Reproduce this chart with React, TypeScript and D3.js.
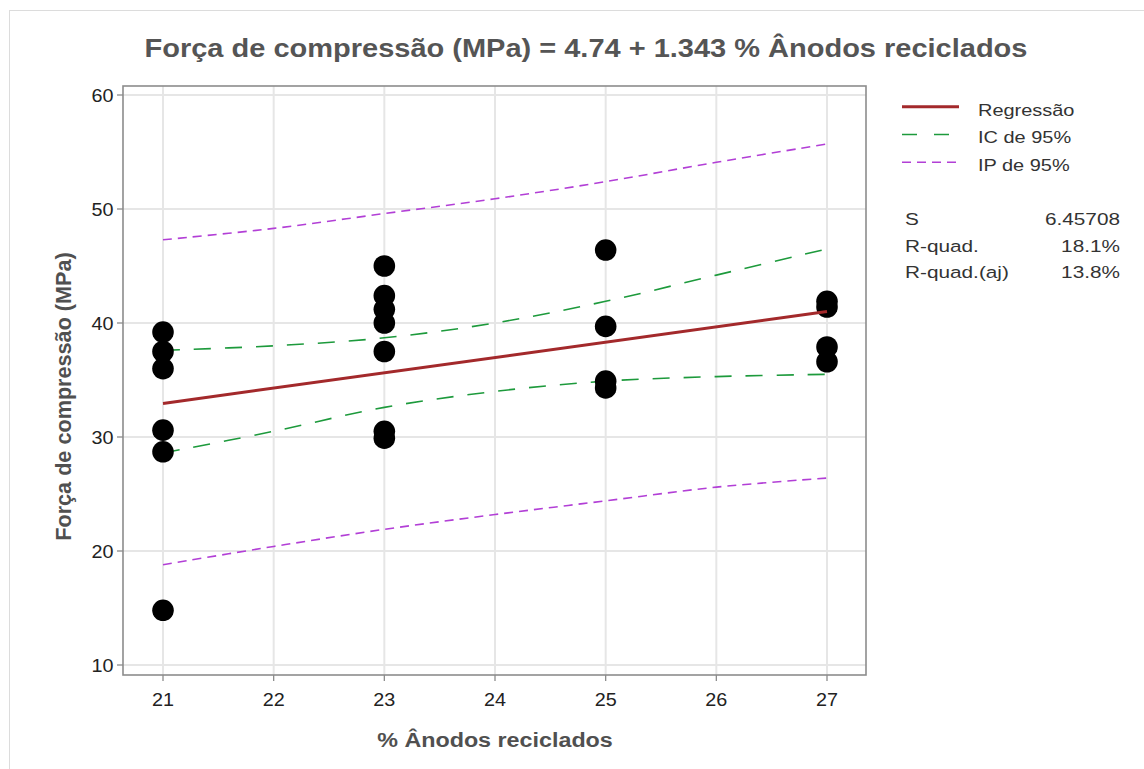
import React from "react";
import * as d3 from "d3";

// observed data: % anodos reciclados vs forca de compressao
const xObs = [21, 21, 21, 21, 21, 21, 23, 23, 23, 23, 23, 23, 23, 25, 25, 25, 25, 27, 27, 27, 27];
const yObs = [39.2, 37.5, 36.0, 30.6, 28.7, 14.8, 45.0, 42.4, 41.2, 40.0, 37.5, 30.5, 29.9, 46.4, 39.7, 34.9, 34.3, 41.9, 41.4, 37.9, 36.6];

// fitted line and bands read at each integer x
const bandX = [21, 22, 23, 24, 25, 26, 27];
const fitStart = 4.74;
const fitSlope = 1.343;
const ciUpper = [37.6, 38.0, 38.7, 40.0, 41.9, 44.2, 46.5];
const ciLower = [28.6, 30.5, 32.6, 34.0, 34.9, 35.3, 35.5];
const piUpper = [47.3, 48.3, 49.6, 50.9, 52.4, 54.1, 55.7];
const piLower = [18.8, 20.4, 21.9, 23.2, 24.4, 25.6, 26.4];

const xTicks = [21, 22, 23, 24, 25, 26, 27];
const yTicks = [10, 20, 30, 40, 50, 60];

const legendItems = ["Regressão", "IC de 95%", "IP de 95%"];
const statLabels = ["S", "R-quad.", "R-quad.(aj)"];
const statValues = ["6.45708", "18.1%", "13.8%"];

const W = 1144;
const H = 769;
const frame = { left: 123, right: 866, top: 86, bottom: 675 };
const font = "'Liberation Sans', Arial, sans-serif";

// text drawn a bit wider than Arial, like the original
function T(props: {
  x: number;
  y: number;
  size: number;
  sx?: number;
  anchor?: string;
  bold?: boolean;
  fill?: string;
  children: React.ReactNode;
}) {
  const { x, y, size, sx = 1.2, anchor = "start", bold = false, fill = "#333" } = props;
  return (
    <text
      transform={`translate(${x},${y}) scale(${sx},1)`}
      textAnchor={anchor}
      fontSize={size}
      fontWeight={bold ? "bold" : "normal"}
      fill={fill}
    >
      {props.children}
    </text>
  );
}

export default function App() {
  const x = d3.scaleLinear().domain([21, 27]).range([163, 827]);
  const y = d3.scaleLinear().domain([10, 60]).range([665, 95]);

  const band = d3
    .line<number>()
    .x((d, i) => x(bandX[i]))
    .y((d) => y(d))
    .curve(d3.curveCatmullRom.alpha(0.5));

  const fit = (v: number) => fitStart + fitSlope * v;
  const lineStyles = [
    { stroke: "#a3292b", width: 3, dash: "none" },
    { stroke: "#1d9a3c", width: 1.6, dash: "17,14" },
    { stroke: "#b23fd6", width: 1.6, dash: "9,6" },
  ];

  return (
    <svg
      width={W}
      height={H}
      style={{ position: "absolute", left: 0, top: 0, background: "#fff" }}
      fontFamily={font}
    >
      <rect x={9.5} y={10.5} width={1200} height={800} fill="#fff" stroke="#dcdcdc" />

      <T x={586} y={57} size={25} sx={1.16} anchor="middle" bold fill="#555">
        Força de compressão (MPa) = 4.74 + 1.343 % Ânodos reciclados
      </T>

      {/* grid */}
      {xTicks.map((t) => (
        <line key={"gx" + t} x1={x(t)} x2={x(t)} y1={frame.top} y2={frame.bottom} stroke="#e6e6e6" strokeWidth={2} />
      ))}
      {yTicks.map((t) => (
        <line key={"gy" + t} x1={frame.left} x2={frame.right} y1={y(t)} y2={y(t)} stroke="#e6e6e6" strokeWidth={2} />
      ))}

      <rect
        x={frame.left}
        y={frame.top}
        width={frame.right - frame.left}
        height={frame.bottom - frame.top}
        fill="none"
        stroke="#8c8c8c"
        strokeWidth={1.6}
      />

      {/* ticks */}
      {yTicks.map((t) => (
        <g key={"ty" + t}>
          <line x1={frame.left - 6} x2={frame.left} y1={y(t)} y2={y(t)} stroke="#8c8c8c" strokeWidth={1.3} />
          <T x={113.5} y={y(t) + 6.5} size={17.5} sx={1.13} anchor="end" fill="#222">
            {t}
          </T>
        </g>
      ))}
      {xTicks.map((t) => (
        <g key={"tx" + t}>
          <line x1={x(t)} x2={x(t)} y1={frame.bottom} y2={frame.bottom + 6} stroke="#8c8c8c" strokeWidth={1.3} />
          <T x={x(t)} y={706} size={17.5} sx={1.13} anchor="middle" fill="#222">
            {t}
          </T>
        </g>
      ))}

      <T x={495} y={746.5} size={21} sx={1.11} anchor="middle" bold fill="#505050">
        % Ânodos reciclados
      </T>
      <text
        transform={`translate(71,396.5) scale(1.16,1) rotate(-90) scale(1.11,1)`}
        textAnchor="middle"
        fontSize={19.5}
        fontWeight="bold"
        fill="#505050"
      >
        Força de compressão (MPa)
      </text>

      {/* bands */}
      <path d={band(piUpper) || ""} fill="none" stroke={lineStyles[2].stroke} strokeWidth={1.6} strokeDasharray={lineStyles[2].dash} />
      <path d={band(piLower) || ""} fill="none" stroke={lineStyles[2].stroke} strokeWidth={1.6} strokeDasharray={lineStyles[2].dash} />
      <path d={band(ciUpper) || ""} fill="none" stroke={lineStyles[1].stroke} strokeWidth={1.6} strokeDasharray={lineStyles[1].dash} />
      <path d={band(ciLower) || ""} fill="none" stroke={lineStyles[1].stroke} strokeWidth={1.6} strokeDasharray={lineStyles[1].dash} />

      {/* points */}
      {xObs.map((v, i) => (
        <circle key={"p" + i} cx={x(v)} cy={y(yObs[i])} r={10.8} fill="#000" />
      ))}

      <line x1={x(21)} x2={x(27)} y1={y(fit(21))} y2={y(fit(27))} stroke={lineStyles[0].stroke} strokeWidth={3} />

      {/* legend */}
      {legendItems.map((name, i) => (
        <g key={name}>
          <line
            x1={902}
            x2={959}
            y1={106.7 + i * 27.8}
            y2={106.7 + i * 27.8}
            stroke={lineStyles[i].stroke}
            strokeWidth={lineStyles[i].width}
            strokeDasharray={i === 1 ? "15,17" : lineStyles[i].dash}
          />
          <T x={978} y={115.5 + i * 27.8} size={16.5} sx={1.21}>
            {name}
          </T>
        </g>
      ))}
      {statLabels.map((s, i) => (
        <g key={s}>
          <T x={905} y={225 + i * 26.7} size={16.5} sx={1.26}>
            {s}
          </T>
          <T x={1120} y={225 + i * 26.7} size={16.5} sx={1.26} anchor="end">
            {statValues[i]}
          </T>
        </g>
      ))}
    </svg>
  );
}
